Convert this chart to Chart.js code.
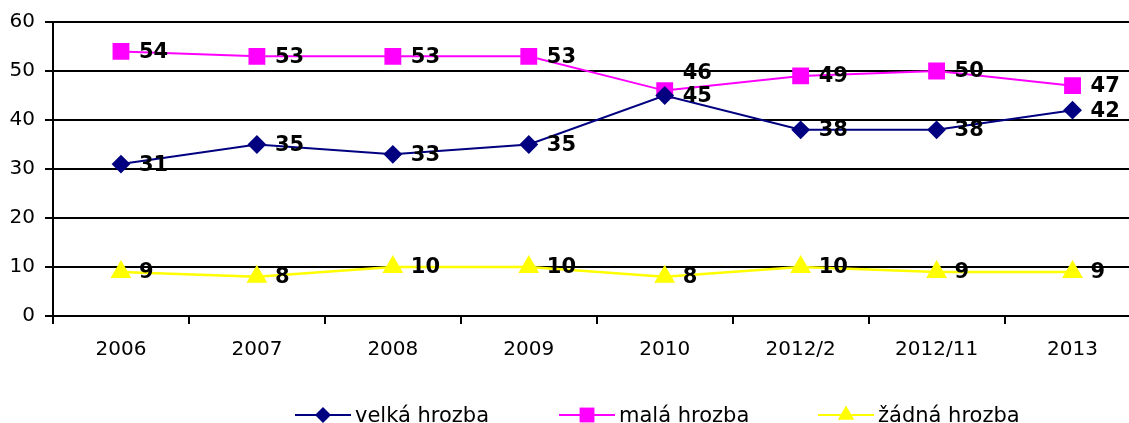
<!DOCTYPE html>
<html lang="cs">
<head>
    <meta charset="UTF-8">
    <title>Hrozba</title>
    <script src="https://cdn.jsdelivr.net/npm/chart.js"></script>
    <style>
        html, body { margin: 0; padding: 0; background: #fff; overflow: hidden; }
        #wrap { width: 1129px; height: 423px; overflow: hidden; }
    </style>
</head>
<body>
<div id="wrap"><canvas id="chart" width="1153" height="423"></canvas></div>
<script>
    // data
    const years = ['2006', '2007', '2008', '2009', '2010', '2012/2', '2012/11', '2013'];
    const velka = [31, 35, 33, 35, 45, 38, 38, 42];
    const mala = [54, 53, 53, 53, 46, 49, 50, 47];
    const zadna = [9, 8, 10, 10, 8, 10, 9, 9];
    const seriesNames = ['velká hrozba', 'malá hrozba', 'žádná hrozba'];

    const navy = '#000080', pink = '#FF00FF', yellow = '#FFFF00';

    // value labels next to each point
    const valueLabels = {
        id: 'valueLabels',
        afterDatasetsDraw(chart) {
            const ctx = chart.ctx;
            ctx.save();
            ctx.font = 'bold 21px "DejaVu Sans"';
            ctx.fillStyle = '#000';
            ctx.textAlign = 'left';
            ctx.textBaseline = 'middle';
            chart.data.datasets.forEach((ds, i) => {
                chart.getDatasetMeta(i).data.forEach((pt, j) => {
                    let dy = 1;
                    if (i === 1 && j === 4) dy = -17; // 46 pushed up, like the original
                    ctx.fillText(ds.data[j], pt.x + 18, pt.y + dy);
                });
            });
            ctx.restore();
        }
    };

    // legend: line with marker, then the name
    const lineLegend = {
        id: 'lineLegend',
        afterDraw(chart) {
            const ctx = chart.ctx;
            const starts = [295, 559, 818];
            const y = 415;
            ctx.save();
            chart.data.datasets.forEach((ds, i) => {
                const x0 = starts[i];
                ctx.strokeStyle = ds.borderColor;
                ctx.lineWidth = 2;
                ctx.beginPath();
                ctx.moveTo(x0, y);
                ctx.lineTo(x0 + 56, y);
                ctx.stroke();
                ctx.fillStyle = ds.pointBackgroundColor;
                Chart.helpers.drawPoint(ctx, {
                    pointStyle: ds.pointStyle,
                    radius: ds.pointRadius,
                    borderWidth: 0
                }, x0 + 28, y);
                ctx.fillStyle = '#000';
                ctx.font = '21px "DejaVu Sans"';
                ctx.textAlign = 'left';
                ctx.textBaseline = 'alphabetic';
                ctx.fillText(ds.label, x0 + 60, 422);
            });
            ctx.restore();
        }
    };

    new Chart(document.getElementById('chart'), {
        type: 'line',
        data: {
            labels: years,
            datasets: [
                {
                    label: seriesNames[0], data: velka,
                    borderColor: navy, backgroundColor: navy,
                    pointBackgroundColor: navy, pointBorderColor: navy,
                    pointStyle: 'rectRot', pointRadius: 8, borderWidth: 2
                },
                {
                    label: seriesNames[1], data: mala,
                    borderColor: pink, backgroundColor: pink,
                    pointBackgroundColor: pink, pointBorderColor: pink,
                    pointStyle: 'rect', pointRadius: 10.5, borderWidth: 2
                },
                {
                    label: seriesNames[2], data: zadna,
                    borderColor: yellow, backgroundColor: yellow,
                    pointBackgroundColor: yellow, pointBorderColor: yellow,
                    pointStyle: 'triangle', pointRadius: 9.5, borderWidth: 2.5
                }
            ]
        },
        options: {
            responsive: false,
            animation: false,
            layout: { padding: { top: 21, left: 0, right: 0, bottom: 0 } },
            plugins: {
                legend: { display: false },
                tooltip: { enabled: false }
            },
            elements: { line: { tension: 0 }, point: { borderWidth: 1 } },
            scales: {
                x: {
                    offset: true,
                    afterFit: s => { s.height = 107; },
                    border: { color: '#000', width: 2 },
                    grid: {
                        offset: true, drawOnChartArea: false, drawTicks: true,
                        tickLength: 8, color: '#000', lineWidth: 2
                    },
                    ticks: {
                        color: '#000', padding: 14,
                        font: { family: 'DejaVu Sans', size: 20 }
                    }
                },
                y: {
                    min: 0, max: 60,
                    afterFit: s => { s.width = 53; },
                    border: { color: '#000', width: 2 },
                    grid: { color: '#000', lineWidth: 2, tickLength: 8 },
                    ticks: {
                        stepSize: 10, color: '#000', padding: 10,
                        font: { family: 'DejaVu Sans', size: 20 }
                    }
                }
            }
        },
        plugins: [valueLabels, lineLegend]
    });
</script>
</body>
</html>
